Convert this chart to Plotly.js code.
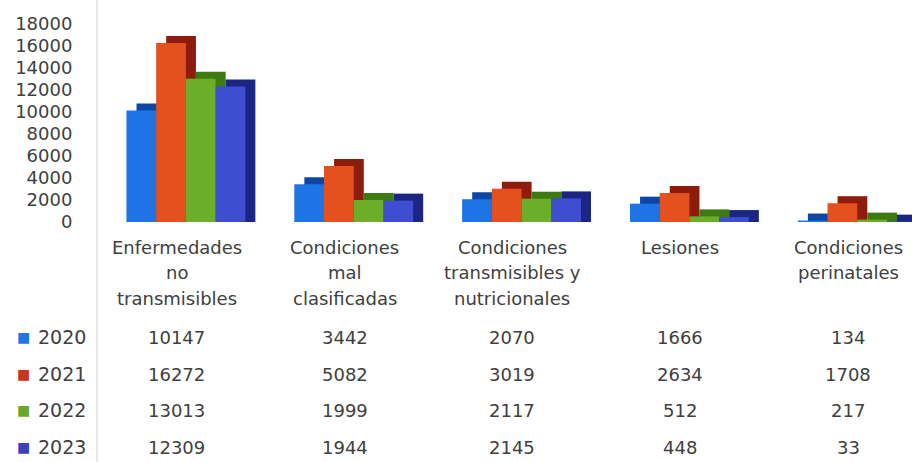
<!DOCTYPE html>
<html><head><meta charset="utf-8">
<script src="https://cdn.plot.ly/plotly-3.0.1.min.js"></script>
<style>html,body{margin:0;padding:0;background:#fff}#chart{width:912px;height:462px}</style>
</head><body><div id="chart"></div>
<script>
const categories = ["Enfermedades<br>no<br>transmisibles","Condiciones<br>mal<br>clasificadas","Condiciones<br>transmisibles y<br>nutricionales","Lesiones","Condiciones<br>perinatales"];
const years = ["2020","2021","2022","2023"];
const v2020 = [10147, 3442, 2070, 1666, 134];
const v2021 = [16272, 5082, 3019, 2634, 1708];
const v2022 = [13013, 1999, 2117, 512, 217];
const v2023 = [12309, 1944, 2145, 448, 33];
const yTicks = [0,2000,4000,6000,8000,10000,12000,14000,16000,18000];

const series = [v2020, v2021, v2022, v2023];
const front = ["#1e74e4","#e4501e","#6cae28","#3e4ed0"];
const side  = ["#0d47a6","#8e1c0c","#3d7a10","#1b2684"];
const legendCol = ["#1f78e0","#c8341f","#6aa82a","#3a44b8"];

const W = 912, H = 462, L = 97, T = 24, B = 240;
const plotH = H - T - B;           // 198
const plotW = W - L;               // 815
const unit = 168.25;               // px per category
const py = p => (H - B - p) / plotH;
const px = p => (p - L) / plotW;

const xs = categories.map((_, i) => i);
const bw = 0.177, start = -0.30, dx = 0.06, depth = 7 / plotH * 18000;
const font = "DejaVu Sans, Liberation Sans, sans-serif";
const txt = "#404040";

const traces = [];
series.forEach((vals, s) => {
  traces.push({type:"bar", x:xs, y:vals.map(v => v + depth), width:bw, offset:start + s*bw + dx,
    marker:{color:side[s], line:{width:0}}, hoverinfo:"skip", showlegend:false});
  traces.push({type:"bar", x:xs, y:vals, width:bw, offset:start + s*bw, name:years[s],
    marker:{color:front[s], line:{width:0}}, showlegend:false});
});

const ann = [];
categories.forEach((c, i) => {
  c.split("<br>").forEach((line, k) => {
    ann.push({x:i, xref:"x", y:py(247 + k*25.5), yref:"paper", text:line, showarrow:false,
      xanchor:"center", yanchor:"middle", font:{family:font, size:18, color:txt}});
  });
});
const rowY = [337, 374, 410, 447];
series.forEach((vals, s) => {
  ann.push({x:px(23), xref:"paper", y:py(rowY[s]), yref:"paper", text:"■", showarrow:false,
    xanchor:"center", yanchor:"middle", font:{family:font, size:14, color:legendCol[s]}});
  ann.push({x:px(36), xref:"paper", y:py(rowY[s]), yref:"paper", text:years[s], showarrow:false,
    xanchor:"left", yanchor:"middle", font:{family:font, size:19, color:txt}});
  vals.forEach((v, i) => {
    ann.push({x:i, xref:"x", y:py(rowY[s]), yref:"paper", text:String(v), showarrow:false,
      xanchor:"center", yanchor:"middle", font:{family:font, size:18, color:txt}});
  });
});

const layout = {
  width:W, height:H, margin:{l:L, r:0, t:T, b:B},
  paper_bgcolor:"#fff", plot_bgcolor:"#fff",
  barmode:"overlay", showlegend:false,
  xaxis:{range:[-(177-L)/unit, 4 + (W-848)/unit], showticklabels:false, showgrid:false, zeroline:false, showline:false, ticks:""},
  yaxis:{range:[0,18000], tickvals:yTicks, ticktext:yTicks.map(String), showgrid:false, zeroline:false, showline:false,
    ticks:"outside", ticklen:20, tickcolor:"rgba(0,0,0,0)", tickfont:{family:font, size:18, color:txt}},
  shapes:[{type:"line", xref:"paper", yref:"paper", x0:0, x1:0, y0:py(H), y1:py(0), line:{color:"#d0d0d0", width:1}}],
  annotations:ann
};
Plotly.newPlot("chart", traces, layout, {displayModeBar:false, staticPlot:true});
</script></body></html>
